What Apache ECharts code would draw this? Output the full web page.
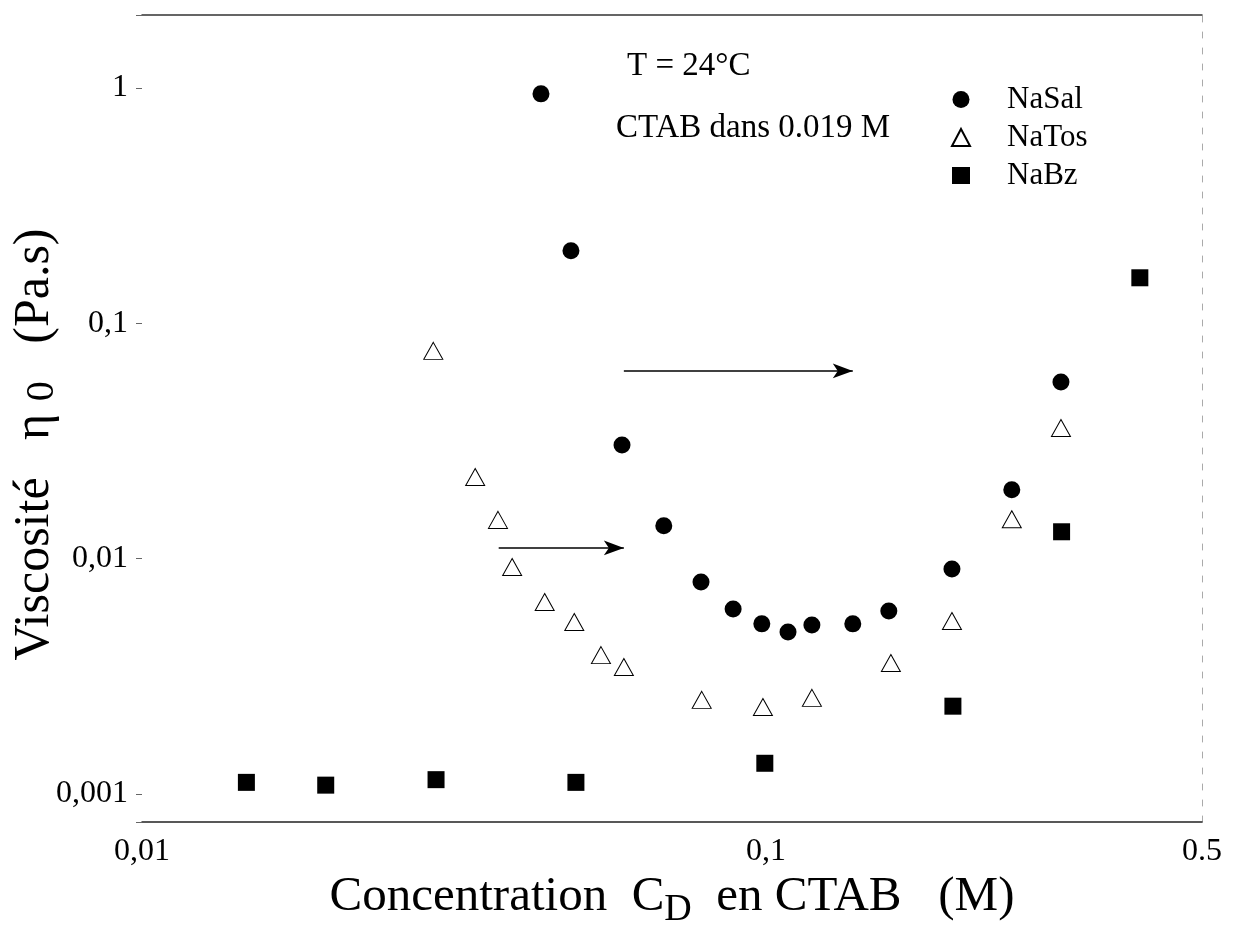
<!DOCTYPE html>
<html>
<head>
<meta charset="utf-8">
<script src="https://cdn.jsdelivr.net/npm/echarts@6/dist/echarts.min.js"></script>
<style>
html,body{margin:0;padding:0;background:#fff;}
#chart{width:1243px;height:925px;}
</style>
</head>
<body>
<div id="chart"></div>
<script>
// ---- data ----
const naSalX = [0.0436, 0.0487, 0.0588, 0.0686, 0.0787, 0.0886, 0.0985, 0.1085, 0.1185, 0.1378, 0.1574, 0.1987, 0.2478, 0.2971];
const naSalY = [0.943, 0.203, 0.0304, 0.0138, 0.00796, 0.00611, 0.00528, 0.00488, 0.00522, 0.00528, 0.00599, 0.00903, 0.0196, 0.0563];

const naTosX = [0.0293, 0.0342, 0.0372, 0.0392, 0.0442, 0.0493, 0.0544, 0.0592, 0.0789, 0.0989, 0.1185, 0.1586, 0.1987, 0.2478, 0.2971];
const naTosY = [0.0763, 0.0222, 0.0146, 0.00921, 0.00654, 0.00538, 0.00389, 0.00346, 0.00251, 0.00234, 0.00256, 0.00360, 0.00543, 0.0147, 0.0359];

const naBzX = [0.0147, 0.0197, 0.0296, 0.0496, 0.0996, 0.1994, 0.2978, 0.3975];
const naBzY = [0.00112, 0.00109, 0.00115, 0.00112, 0.00135, 0.00236, 0.0130, 0.156];

// arrows: [x start, x end, y]
const arrow1 = [0.0592, 0.1378, 0.0627];
const arrow2 = [0.0373, 0.0592, 0.0111];

const xTickValues = [0.01, 0.1, 0.5];
const xTickLabels = ['0,01', '0,1', '0.5'];
const yTickValues = [0.001, 0.01, 0.1, 1];
const yTickLabels = ['0,001', '0,01', '0,1', '1'];

const seriesNames = ['NaSal', 'NaTos', 'NaBz'];
const annotation1 = 'T = 24°C';
const annotation2 = 'CTAB dans 0.019 M';

// ---- helpers ----
const zip = (xs, ys) => xs.map((x, i) => [x, ys[i]]);
function labelFor(values, labels) {
  return function (v) {
    const i = values.findIndex(t => Math.abs(Math.log10(v) - Math.log10(t)) < 1e-3);
    return i >= 0 ? labels[i] : '';
  };
}

const FONT = 'Liberation Serif';
const chart = echarts.init(document.getElementById('chart'), null, {renderer: 'canvas'});

const option = {
  animation: false,
  backgroundColor: '#ffffff',
  grid: {left: 142, right: 41, top: 15, bottom: 103, containLabel: false, outerBoundsMode: 'none'},
  legend: {
    orient: 'vertical',
    left: 946,
    top: 78,
    itemWidth: 18,
    itemHeight: 17,
    itemGap: 5,
    data: seriesNames,
    textStyle: {fontFamily: FONT, fontSize: 31, color: '#000', lineHeight: 33, padding: [0, 0, 0, 32]}
  },
  graphic: [
    {type: 'text', left: 627, top: 50, style: {text: annotation1, fontFamily: FONT, fontSize: 33, fill: '#000'}},
    {type: 'text', left: 616, top: 112, style: {text: annotation2, fontFamily: FONT, fontSize: 33, fill: '#000'}}
  ],
  xAxis: [
    {
      type: 'log', logBase: 10, min: 0.01, max: 0.5,
      name: 'Concentration  C{sub|D}  en CTAB   (M)',
      nameLocation: 'middle', nameGap: 42,
      nameTextStyle: {
        fontFamily: FONT, fontSize: 49, color: '#000',
        rich: {sub: {fontFamily: FONT, fontSize: 38, color: '#000', padding: [26, 0, 0, 0]}}
      },
      axisLine: {show: true, lineStyle: {color: '#222', width: 1.5}},
      axisTick: {show: false},
      minorTick: {show: false},
      splitLine: {show: false},
      axisLabel: {
        show: true, margin: 14, showMinLabel: true, showMaxLabel: true,
        fontFamily: FONT, fontSize: 32, color: '#000',
        formatter: labelFor(xTickValues, xTickLabels)
      }
    },
    {
      type: 'log', logBase: 10, min: 0.01, max: 0.5, position: 'top',
      axisLine: {show: true, lineStyle: {color: '#333', width: 1.5}},
      axisTick: {show: false}, axisLabel: {show: false}, splitLine: {show: false}
    }
  ],
  yAxis: [
    {
      type: 'log', logBase: 10, min: 0.00076, max: 2.04,
      name: 'Viscosité   η {sub|0}   (Pa.s)',
      nameLocation: 'middle', nameGap: 80, nameMoveOverlap: false,
      nameTextStyle: {
        fontFamily: FONT, fontSize: 50, color: '#000', padding: [0, 52, 0, 0],
        rich: {sub: {fontFamily: FONT, fontSize: 40, color: '#000', padding: [14, 0, 0, 0]}}
      },
      axisLine: {show: false},
      axisTick: {show: true, length: 6, lineStyle: {color: '#666', width: 1}},
      splitLine: {show: false},
      axisLabel: {
        show: true, margin: 14,
        fontFamily: FONT, fontSize: 32, color: '#000',
        formatter: labelFor(yTickValues, yTickLabels)
      }
    },
    {
      type: 'log', logBase: 10, min: 0.00076, max: 2.04, position: 'right',
      axisLine: {show: true, lineStyle: {color: '#aaa', width: 1, type: [6, 10]}},
      axisTick: {show: false}, axisLabel: {show: false}, splitLine: {show: false}
    }
  ],
  series: [
    {
      name: seriesNames[0], type: 'scatter', xAxisIndex: 0, yAxisIndex: 0,
      symbol: 'circle', symbolSize: 17,
      itemStyle: {color: '#000', opacity: 1},
      data: zip(naSalX, naSalY)
    },
    {
      name: seriesNames[1], type: 'scatter', xAxisIndex: 0, yAxisIndex: 0,
      symbol: 'triangle', symbolSize: [19, 17],
      itemStyle: {color: '#fff', borderColor: '#000', borderWidth: 1, opacity: 1},
      data: zip(naTosX, naTosY)
    },
    {
      name: seriesNames[2], type: 'scatter', xAxisIndex: 0, yAxisIndex: 0,
      symbol: 'rect', symbolSize: 17,
      itemStyle: {color: '#000', opacity: 1},
      data: zip(naBzX, naBzY)
    },
    {
      name: 'arrows', type: 'line', xAxisIndex: 0, yAxisIndex: 0, data: [],
      markLine: {
        silent: true, animation: false,
        symbol: ['none', 'arrow'], symbolSize: [11, 20],
        label: {show: false},
        lineStyle: {color: '#000', width: 1.5, type: 'solid'},
        data: [
          [{coord: [arrow1[0], arrow1[2]]}, {coord: [arrow1[1], arrow1[2]]}],
          [{coord: [arrow2[0], arrow2[2]]}, {coord: [arrow2[1], arrow2[2]]}]
        ]
      }
    }
  ]
};
chart.setOption(option);
</script>
</body>
</html>
